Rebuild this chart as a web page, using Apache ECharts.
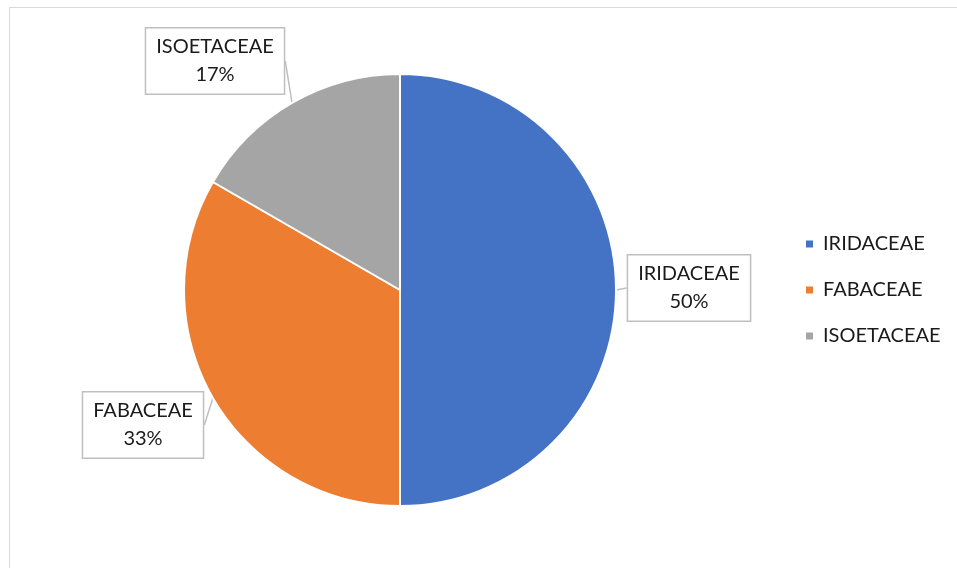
<!DOCTYPE html>
<html>
<head>
<meta charset="utf-8">
<script src="https://cdn.jsdelivr.net/npm/echarts@6/dist/echarts.min.js"></script>
<style>
  html, body { margin: 0; padding: 0; background: #fff; }
  #frame { position: absolute; left: 9px; top: 7px; width: 948px; height: 561px;
           border-left: 1px solid #d9d9d9; border-top: 1px solid #d9d9d9; box-sizing: border-box; }
  #chart { position: absolute; left: 0; top: 0; width: 957px; height: 568px; }
</style>
</head>
<body>
<div id="frame"></div>
<div id="chart"></div>
<script>
// families and their shares
const families = ['IRIDACEAE', 'FABACEAE', 'ISOETACEAE'];
const counts = [3, 2, 1];
const colors = ['#4472C4', '#ED7D31', '#A5A5A5'];

// where each callout box sits (centre, px)
const calloutPos = [[689, 288], [143, 425], [215, 61]];

const myChart = echarts.init(document.getElementById('chart'));

const option = {
  animation: false,
  color: colors,
  textStyle: { fontFamily: 'Lato, "Open Sans", sans-serif' },
  legend: {
    orient: 'vertical',
    left: 799,
    top: 229,
    itemWidth: 9,
    itemHeight: 9,
    itemGap: 26,
    icon: 'rect',
    data: families,
    textStyle: { fontSize: 20, color: '#1a1a1a', padding: [0, 0, 0, 4] }
  },
  series: [
    {
      type: 'pie',
      center: [400, 290],
      radius: 216,
      startAngle: 90,
      clockwise: true,
      data: families.map((f, i) => ({ name: f, value: counts[i] })),
      itemStyle: { borderColor: '#fff', borderWidth: 2 },
      label: {
        show: true,
        position: 'outside',
        formatter: p => p.name + '\n' + Math.round(p.percent) + '%',
        fontSize: 20,
        lineHeight: 28,
        color: '#1a1a1a',
        align: 'center',
        backgroundColor: '#fff',
        borderColor: '#bfbfbf',
        borderWidth: 1.5,
        padding: [5, 10, 4, 10]
      },
      labelLine: {
        show: true,
        length: 10,
        length2: 0,
        lineStyle: { color: '#bfbfbf', width: 1.5 }
      },
      labelLayout: params => {
        const p = calloutPos[params.dataIndex];
        return { x: p[0], y: p[1], align: 'center', verticalAlign: 'middle' };
      },
      emphasis: { disabled: true }
    }
  ]
};

myChart.setOption(option);
</script>
</body>
</html>
